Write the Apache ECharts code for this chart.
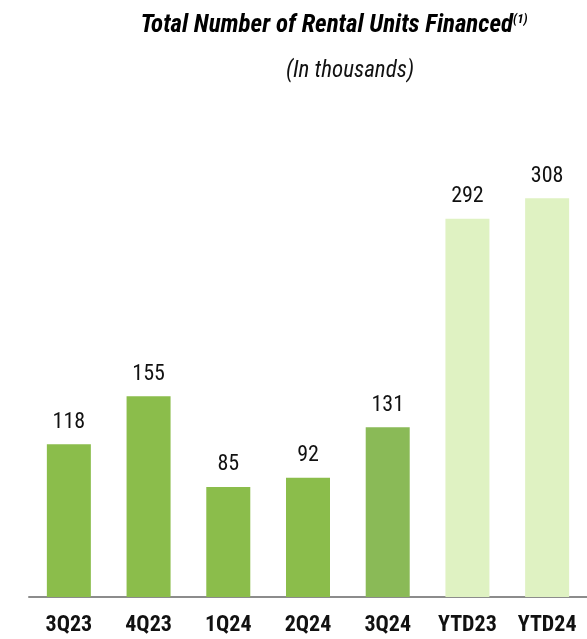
<!DOCTYPE html>
<html>
<head>
<meta charset="utf-8">
<script src="https://cdn.jsdelivr.net/npm/echarts@6/dist/echarts.min.js"></script>
<style>
  html, body { margin: 0; padding: 0; background: #fff; }
  #chart { width: 587px; height: 639px; }
</style>
</head>
<body>
<div id="chart"></div>
<script>
const categories = ['3Q23', '4Q23', '1Q24', '2Q24', '3Q24', 'YTD23', 'YTD24'];
const units = [118, 155, 85, 92, 131, 292, 308];
const barColors = ['#8bbd4b', '#8bbd4b', '#8bbd4b', '#8bbd4b', '#8aba57', '#dff2c2', '#dff2c2'];

const narrow = '"Liberation Sans Narrow", "Arial Narrow", "Roboto Condensed", sans-serif';

const chart = echarts.init(document.getElementById('chart'));
chart.setOption({
    animation: false,
    title: [{
        text: 'Total Number of Rental Units Financed{sup|(1)}',
        left: 329,
        top: 8,
        textAlign: 'center',
        textStyle: {
            fontFamily: narrow,
            fontSize: 25,
            fontWeight: 'bold',
            fontStyle: 'italic',
            color: '#000',
            rich: {
                sup: {
                    fontFamily: narrow,
                    fontSize: 13,
                    fontWeight: 'bold',
                    fontStyle: 'italic',
                    color: '#000',
                    verticalAlign: 'top',
                    padding: [0, 0, 10, 0]
                }
            }
        }
    }, {
        text: '(In thousands)',
        left: 345,
        top: 55,
        textAlign: 'center',
        textStyle: {
            fontFamily: narrow,
            fontSize: 23,
            fontWeight: 'normal',
            fontStyle: 'italic',
            color: '#111'
        }
    }],
    grid: { left: 29, right: 0, top: 79, bottom: 42 },
    xAxis: {
        type: 'category',
        data: categories,
        axisLine: { lineStyle: { color: '#8c8c8c', width: 2 } },
        axisTick: { alignWithLabel: true, length: 7, lineStyle: { color: '#8c8c8c', width: 2 } },
        axisLabel: {
            interval: 0,
            color: '#111',
            fontFamily: narrow,
            fontSize: 22,
            fontWeight: 'bold',
            margin: 17
        }
    },
    yAxis: {
        type: 'value',
        min: 0,
        max: 400,
        show: false,
        splitLine: { show: false }
    },
    series: [{
        type: 'bar',
        barWidth: 44,
        data: units.map((v, i) => ({ value: v, itemStyle: { color: barColors[i] } })),
        label: {
            show: true,
            position: 'top',
            distance: 11,
            color: '#111',
            fontFamily: narrow,
            fontSize: 22
        }
    }]
});
</script>
</body>
</html>
